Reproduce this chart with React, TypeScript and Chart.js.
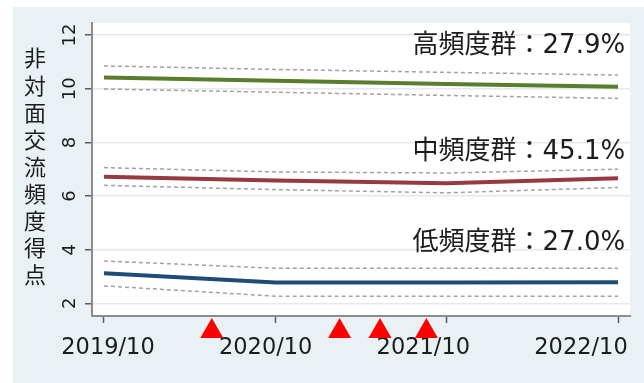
import React, { useEffect, useRef } from "react";
import { Chart, registerables } from "chart.js";

Chart.register(...registerables);

// Survey waves, as months counted from 2019/10
const waveMonths = [0, 12, 24, 36];
const xTickLabels = ["2019/10", "2020/10", "2021/10", "2022/10"];
const yTicks = [2, 4, 6, 8, 10, 12];

// High-frequency group: mean and 95% interval
const highMean = [10.42, 10.3, 10.18, 10.07];
const highUpper = [10.85, 10.72, 10.61, 10.51];
const highLower = [9.99, 9.87, 9.75, 9.64];

// Middle-frequency group
const midMean = [6.72, 6.58, 6.48, 6.66];
const midUpper = [7.06, 6.9, 6.86, 7.0];
const midLower = [6.4, 6.24, 6.12, 6.32];

// Low-frequency group
const lowMean = [3.12, 2.78, 2.78, 2.79];
const lowUpper = [3.58, 3.31, 3.31, 3.31];
const lowLower = [2.65, 2.27, 2.27, 2.27];

// Group names with their share of respondents
const groupLabels = ["高頻度群：27.9%", "中頻度群：45.1%", "低頻度群：27.0%"];
const groupLabelY = [11.6, 7.65, 4.24];

// Event markers under the time axis (months from 2019/10)
const eventMonths = [7.55, 16.5, 19.33, 22.58];

const yTitle = "非対面交流頻度得点";

const FONT = '"DejaVu Sans", "Noto Sans CJK JP", sans-serif';
const FONT_CJK = '"Noto Sans CJK JP", sans-serif';
const PANEL_BG = "#eaf1f4";
const COLORS = {
  high: "#5a7d2c",
  mid: "#973a42",
  low: "#1e4c76",
  band: "#a2a2a2",
  marker: "#ff0000",
  axis: "#8c8c8c",
  tick: "#5a5a5a",
  grid: "#e2eaef",
  text: "#1c1c1c",
};

const points = (vals: number[]) => waveMonths.map((m, i) => ({ x: m, y: vals[i] }));

const bandLine = (vals: number[]) => ({
  type: "line" as const,
  data: points(vals),
  borderColor: COLORS.band,
  borderWidth: 1.5,
  borderDash: [4, 3],
  pointRadius: 0,
  tension: 0,
  fill: false,
  xAxisID: "x",
  yAxisID: "y",
});

const meanLine = (vals: number[], color: string) => ({
  type: "line" as const,
  data: points(vals),
  borderColor: color,
  borderWidth: 4,
  pointRadius: 0,
  tension: 0,
  fill: false,
  borderCapStyle: "butt" as const,
  xAxisID: "x",
  yAxisID: "y",
});

const plotBackground = {
  id: "plotBackground",
  beforeDraw(chart: any) {
    const { ctx, chartArea } = chart;
    ctx.save();
    ctx.fillStyle = "#ffffff";
    ctx.fillRect(chartArea.left, chartArea.top, chartArea.right - chartArea.left, chartArea.bottom - chartArea.top);
    ctx.restore();
  },
};

// Vertical (stacked) axis title
const stackedTitle = {
  id: "stackedTitle",
  afterDraw(chart: any) {
    const { ctx, chartArea } = chart;
    const chars = Array.from(yTitle);
    const step = 27.1;
    const mid = (chartArea.top + chartArea.bottom) / 2 - 3;
    const start = mid - ((chars.length - 1) * step) / 2;
    ctx.save();
    ctx.font = `22px ${FONT_CJK}`;
    ctx.fillStyle = COLORS.text;
    ctx.textAlign = "center";
    ctx.textBaseline = "middle";
    chars.forEach((c, i) => ctx.fillText(c, 22, start + i * step));
    ctx.restore();
  },
};

const groupNames = {
  id: "groupNames",
  afterDatasetsDraw(chart: any) {
    const { ctx, scales } = chart;
    const x = scales.x.getPixelForValue(36.5);
    ctx.save();
    ctx.font = `26px ${FONT}`;
    ctx.fillStyle = COLORS.text;
    ctx.textAlign = "right";
    ctx.textBaseline = "middle";
    groupLabels.forEach((t, i) => ctx.fillText(t, x, scales.y.getPixelForValue(groupLabelY[i])));
    ctx.restore();
  },
};

// Red triangles hanging just below the time axis
const eventMarkers = {
  id: "eventMarkers",
  afterDraw(chart: any) {
    const { ctx, scales, chartArea } = chart;
    const r = 13.3;
    const cy = chartArea.bottom + 15.3;
    ctx.save();
    ctx.fillStyle = COLORS.marker;
    eventMonths.forEach((m) => {
      const cx = scales.x.getPixelForValue(m);
      ctx.beginPath();
      ctx.moveTo(cx, cy - r);
      ctx.lineTo(cx + (r * Math.sqrt(3)) / 2, cy + r / 2);
      ctx.lineTo(cx - (r * Math.sqrt(3)) / 2, cy + r / 2);
      ctx.closePath();
      ctx.fill();
    });
    ctx.restore();
  },
};

export default function App() {
  const ref = useRef<HTMLCanvasElement | null>(null);

  useEffect(() => {
    if (!ref.current) return;
    const chart = new Chart(ref.current, {
      type: "line",
      data: {
        datasets: [
          bandLine(highUpper),
          bandLine(highLower),
          bandLine(midUpper),
          bandLine(midLower),
          bandLine(lowUpper),
          bandLine(lowLower),
          meanLine(highMean, COLORS.high),
          meanLine(midMean, COLORS.mid),
          meanLine(lowMean, COLORS.low),
        ],
      },
      options: {
        responsive: false,
        animation: false,
        events: [],
        layout: { padding: { left: 0, right: 14, top: 16, bottom: 0 } },
        plugins: { legend: { display: false }, tooltip: { enabled: false }, title: { display: false } },
        scales: {
          x: {
            type: "linear",
            position: "bottom",
            min: -0.84,
            max: 36.84,
            weight: 0,
            afterBuildTicks: (s: any) => {
              s.ticks = waveMonths.map((v) => ({ value: v }));
            },
            afterFit: (s: any) => {
              s.height = 7;
            },
            ticks: { display: false },
            grid: { drawOnChartArea: false, drawTicks: true, tickLength: 7, tickColor: COLORS.tick, tickWidth: 1.5 },
            border: { display: true, color: COLORS.axis, width: 2 },
          },
          // year labels, spaced a little tighter than the tick marks
          xLabels: {
            type: "linear",
            position: "bottom",
            min: -1.218,
            max: 39.729,
            weight: 1,
            afterBuildTicks: (s: any) => {
              s.ticks = waveMonths.map((v) => ({ value: v }));
            },
            afterFit: (s: any) => {
              s.height = 60;
            },
            ticks: {
              padding: 12,
              maxRotation: 0,
              autoSkip: false,
              font: { family: FONT, size: 22.5 },
              color: COLORS.text,
              callback: (_v: any, i: number) => xTickLabels[i],
            },
            grid: { display: false, drawTicks: false },
            border: { display: false },
          },
          y: {
            type: "linear",
            position: "left",
            min: 1.53,
            max: 12.45,
            afterBuildTicks: (s: any) => {
              s.ticks = yTicks.map((v) => ({ value: v }));
            },
            afterFit: (s: any) => {
              s.width = 79;
            },
            ticks: {
              minRotation: 90,
              maxRotation: 90,
              crossAlign: "center",
              padding: 3,
              font: { family: FONT, size: 18 },
              color: COLORS.text,
            },
            grid: { color: COLORS.grid, lineWidth: 1.5, tickLength: 7, tickColor: COLORS.tick, tickWidth: 1.5 },
            border: { display: true, color: COLORS.axis, width: 2 },
          },
        },
      },
      plugins: [plotBackground, stackedTitle, groupNames, eventMarkers],
    } as any);
    return () => chart.destroy();
  }, []);

  return (
    <div style={{ position: "fixed", left: 0, top: 0, width: 644, height: 383, background: "#ffffff" }}>
      <div style={{ position: "absolute", left: 13, top: 7, width: 631, height: 376, background: PANEL_BG }}>
        <canvas ref={ref} width={631} height={376} style={{ display: "block", width: 631, height: 376 }} />
      </div>
    </div>
  );
}
